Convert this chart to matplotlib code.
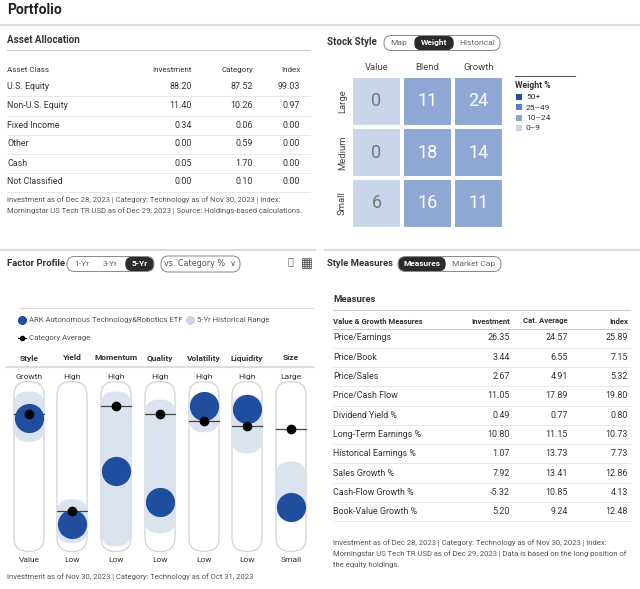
import matplotlib
matplotlib.use("Agg")
import matplotlib.pyplot as plt
from matplotlib.patches import FancyBboxPatch, Rectangle
import numpy as np

plt.rcParams['font.family'] = ['Roboto', 'DejaVu Sans']

W, H = 640, 589
# ---- data ----
asset_classes = ["U.S. Equity", "Non-U.S. Equity", "Fixed Income", "Other", "Cash", "Not Classified"]
aa_investment = ["88.20", "11.40", "0.34", "0.00", "0.05", "0.00"]
aa_category = ["87.52", "10.26", "0.06", "0.59", "1.70", "0.10"]
aa_index = ["99.03", "0.97", "0.00", "0.00", "0.00", "0.00"]

style_cols = ["Value", "Blend", "Growth"]
style_rows = ["Large", "Medium", "Small"]
style_weights = [[0, 11, 24], [0, 18, 14], [6, 16, 11]]

factors = ["Style", "Yield", "Momentum", "Quality", "Volatility", "Liquidity", "Size"]
factor_high = ["Growth", "High", "High", "High", "High", "High", "Large"]
factor_low = ["Value", "Low", "Low", "Low", "Low", "Low", "Small"]
fund_score = [80, 15, 47, 28, 87, 85, 25]
cat_score = [82, 23, 87, 82, 78, 75, 73]
range_lo = [65, 3, 1, 9, 71, 58, 17]
range_hi = [96, 30, 96, 91, 95, 94, 53]

measures = ["Price/Earnings", "Price/Book", "Price/Sales", "Price/Cash Flow", "Dividend Yield %",
            "Long-Term Earnings %", "Historical Earnings %", "Sales Growth %", "Cash-Flow Growth %",
            "Book-Value Growth %"]
m_investment = ["26.35", "3.44", "2.67", "11.05", "0.49", "10.80", "1.07", "7.92", "-5.32", "5.20"]
m_cat = ["24.57", "6.55", "4.91", "17.89", "0.77", "11.15", "13.73", "13.41", "10.85", "9.24"]
m_index = ["25.89", "7.15", "5.32", "19.80", "0.80", "10.73", "7.73", "12.86", "4.13", "12.48"]

fig = plt.figure(figsize=(6.4, 5.89), dpi=100)
fig.patch.set_facecolor("white")
TXT = "#333333"

def t(x, y, s, size=6.5, ha="left", va="center", **kw):
    kw.setdefault("color", TXT)
    fig.text(x / W, 1 - y / H, s, fontsize=size, ha=ha, va=va, **kw)

def hline(x0, x1, y, color="#cccccc", lw=0.8):
    fig.add_artist(plt.Line2D([x0 / W, x1 / W], [1 - y / H, 1 - y / H], color=color, lw=lw))

def pill_btns(x, y, labels, widths, active, h=15):
    total = sum(widths)
    xs = x
    for i, (lab, w) in enumerate(zip(labels, widths)):
        if i == active:
            fig.add_artist(FancyBboxPatch(((xs + 1) / W, 1 - (y + h / 2 - 1) / H), (w - 2) / W, (h - 2) / H,
                                          boxstyle="round,pad=0,rounding_size=0.01", fc="#2b2b2b", ec="#2b2b2b",
                                          transform=fig.transFigure))
            t(xs + w / 2, y, lab, 6, ha="center", color="white", weight="bold")
        else:
            t(xs + w / 2, y, lab, 6, ha="center", color="#666666")
        xs += w
    fig.add_artist(FancyBboxPatch((x / W, 1 - (y + h / 2) / H), total / W, h / H,
                                  boxstyle="round,pad=0,rounding_size=0.012", fc="none", ec="#888888", lw=0.7,
                                  transform=fig.transFigure))

# ---- titles ----
t(7, 10, "Portfolio", 10, weight="bold", color="#222222")
hline(0, 640, 25, "#dddddd", 1.5)

# ---- asset allocation ----
t(7, 40, "Asset Allocation", 7, weight="bold")
hline(7, 310, 50, "#cccccc")
t(7, 70, "Asset Class", 5.8)
t(192, 70, "Investment", 5.8, ha="right")
t(253, 70, "Category", 5.8, ha="right")
t(300, 70, "Index", 5.8, ha="right")
for i, ac in enumerate(asset_classes):
    y = 87 + i * 19
    t(7, y, ac, 6.4)
    t(192, y, aa_investment[i], 6.4, ha="right")
    t(253, y, aa_category[i], 6.4, ha="right")
    t(300, y, aa_index[i], 6.4, ha="right")
    hline(7, 310, y + 9.5, "#e3e3e3", 0.6)
t(7, 200, "Investment as of Dec 28, 2023 | Category: Technology as of Nov 30, 2023 | Index:", 5.5, color="#555555")
t(7, 211, "Morningstar US Tech TR USD as of Dec 29, 2023 | Source: Holdings-based calculations.", 5.5, color="#555555")

# ---- stock style ----
t(327, 42, "Stock Style", 7, weight="bold")
pill_btns(384, 43, ["Map", "Weight", "Historical"], [30, 40, 46], 1)

def wcolor(v):
    if v >= 50: return "#1f4e9f"
    if v >= 25: return "#5b7fc0"
    if v >= 10: return "#8ea8d3"
    return "#c9d5e8"

ax = fig.add_axes([351 / W, 1 - 229 / H, 153 / W, 153 / H])
for r in range(3):
    for c in range(3):
        v = style_weights[r][c]
        ax.add_patch(Rectangle((c + 0.01, 2 - r + 0.01), 0.98, 0.98, fc=wcolor(v), ec="white", lw=1.5))
        ax.text(c + 0.5, 2 - r + 0.5, str(v), ha="center", va="center", fontsize=13,
                color="#777777" if v < 10 else "white")
ax.set_xlim(0, 3); ax.set_ylim(0, 3)
ax.set_xticks([0.5, 1.5, 2.5]); ax.set_xticklabels(style_cols, fontsize=6.8, color="#444444")
ax.xaxis.tick_top()
ax.set_yticks([2.5, 1.5, 0.5]); ax.set_yticklabels(style_rows, fontsize=6.8, color="#444444", rotation=90, va="center")
ax.tick_params(length=0, pad=3)
for s in ax.spines.values(): s.set_visible(False)

hline(515, 575, 76, "#555555", 0.8)
t(515, 85, "Weight %", 6.2, weight="bold")
for i, (lab, v) in enumerate(zip(["50+", "25–49", "10–24", "0–9"], [50, 30, 15, 5])):
    y = 97 + i * 10.5
    fig.add_artist(Rectangle((516 / W, 1 - (y + 3) / H), 6 / W, 6 / H, fc=wcolor(v), transform=fig.transFigure))
    t(526, y, lab, 6)

hline(0, 315, 250, "#dddddd", 1.5)
hline(325, 640, 250, "#dddddd", 1.5)

# ---- factor profile ----
t(7, 263, "Factor Profile", 6.8, weight="bold")
pill_btns(67, 264, ["1-Yr", "3-Yr", "5-Yr"], [29, 29, 29], 2)
fig.add_artist(FancyBboxPatch((161 / W, 1 - 272 / H), 79 / W, 16 / H,
                              boxstyle="round,pad=0,rounding_size=0.012", fc="none", ec="#888888", lw=0.7,
                              transform=fig.transFigure))
t(200, 264, "vs. Category %  ∨", 5.8, ha="center", color="#555555", family="DejaVu Sans")
t(290, 261, "ⓘ", 7, ha="center", color="#555555", family="DejaVu Sans")
t(307, 264, "▦", 9, ha="center", color="#444444", family="DejaVu Sans")
hline(20, 313, 308, "#dddddd", 0.8)
fig.add_artist(plt.Line2D([22 / W], [1 - 320 / H], marker="o", ms=5.5, color="#1f4e9f", transform=fig.transFigure))
t(29, 320, "ARK Autonomous Technology&Robotics ETF", 5.6, color="#555555")
fig.add_artist(plt.Line2D([190 / W], [1 - 320 / H], marker="o", ms=5.5, color="#c9d5e8", transform=fig.transFigure))
t(197, 320, "5-Yr Historical Range", 5.6, color="#555555")
fig.add_artist(plt.Line2D([18 / W, 26 / W], [1 - 338 / H] * 2, color="black", lw=0.8, transform=fig.transFigure))
fig.add_artist(plt.Line2D([22 / W], [1 - 338 / H], marker="o", ms=3, color="black", transform=fig.transFigure))
t(29, 338, "Category Average", 5.6, color="#555555")
hline(7, 313, 367, "#dddddd", 1.5)

xc = [29, 72, 116, 160, 204, 247, 291]
for i, f in enumerate(factors):
    t(xc[i], 358, f, 6, ha="center", weight="bold")
    t(xc[i], 377, factor_high[i], 6, ha="center")
    t(xc[i], 560, factor_low[i], 6, ha="center")

fax = fig.add_axes([7 / W, 1 - 553 / H, 306 / W, 173 / H])
fax.set_xlim(7, 313); fax.set_ylim(-3, 103)
fax.axis("off")
pw = 30
for i in range(len(factors)):
    x = xc[i]
    fax.add_patch(FancyBboxPatch((x - pw / 2, -2), pw, 104, boxstyle="round,pad=0,rounding_size=14",
                                 mutation_aspect=0.6, fc="white", ec="#d6d6d6", lw=1.0))
    fax.add_patch(FancyBboxPatch((x - pw / 2, range_lo[i]), pw, range_hi[i] - range_lo[i],
                                 boxstyle="round,pad=0,rounding_size=14", mutation_aspect=0.6,
                                 fc="#dbe3ef", ec="none"))
    fax.plot([x - pw / 2, x + pw / 2], [cat_score[i]] * 2, color="#444444", lw=0.9, zorder=3)
    fax.plot([x], [fund_score[i]], "o", ms=20, color="#1f4e9f", zorder=4)
    fax.plot([x], [cat_score[i]], "o", ms=6, color="black", zorder=5)

t(7, 577, "Investment as of Nov 30, 2023 | Category: Technology as of Oct 31, 2023", 5.5, color="#555555")

# ---- style measures ----
t(327, 264, "Style Measures", 6.8, weight="bold")
pill_btns(398, 264, ["Measures", "Market Cap"], [48, 55], 0)
t(333, 300, "Measures", 6.8, weight="bold")
hline(333, 630, 310, "#cccccc")
t(333, 321, "Value & Growth Measures", 5.6, weight="bold")
t(510, 321, "Investment", 5.6, ha="right", weight="bold")
t(568, 321, "Cat. Average", 5.6, ha="right", weight="bold")
t(628, 321, "Index", 5.6, ha="right", weight="bold")
hline(333, 630, 329, "#cccccc")
for i, m in enumerate(measures):
    y = 338 + i * 19.3
    t(333, y, m, 6.4)
    t(510, y, m_investment[i], 6.4, ha="right")
    t(568, y, m_cat[i], 6.4, ha="right")
    t(628, y, m_index[i], 6.4, ha="right")
    hline(333, 630, y + 9.6, "#e3e3e3", 0.6)
t(333, 543, "Investment as of Dec 28, 2023 | Category: Technology as of Nov 30, 2023 | Index:", 5.5, color="#555555")
t(333, 554, "Morningstar US Tech TR USD as of Dec 29, 2023 | Data is based on the long position of", 5.5, color="#555555")
t(333, 565, "the equity holdings.", 5.5, color="#555555")

fig.savefig("out.png", dpi=100, facecolor="white")
